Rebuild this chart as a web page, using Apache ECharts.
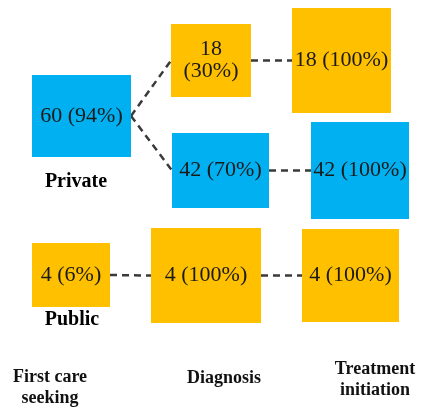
<!DOCTYPE html>
<html>
<head>
<meta charset="utf-8">
<script src="https://cdn.jsdelivr.net/npm/echarts@6/dist/echarts.min.js"></script>
<style>
html, body { margin: 0; padding: 0; background: #fff; }
#chart { width: 421px; height: 410px; }
</style>
</head>
<body>
<div id="chart"></div>
<script>
// Care pathway: patients (share) at each step, by sector of first care
var stages = ['First care\nseeking', 'Diagnosis', 'Treatment\ninitiation'];
var sectors = ['Private', 'Public'];
var nodeCounts = [60, 18, 18, 42, 42, 4, 4, 4];
var nodePercents = [94, 30, 100, 70, 100, 6, 100, 100];
// source -> target node index
var links = [[0, 1], [0, 3], [1, 2], [3, 4], [5, 6], [6, 7]];

// layout only (canvas units): box corners, fill, wrap label
var BLUE = '#00B0F0', ORANGE = '#FFC000';
var boxes = [
    { r: [32, 75, 131, 157], c: BLUE },
    { r: [171, 24, 251, 97], c: ORANGE, wrap: true },
    { r: [292, 8, 391, 113], c: ORANGE },
    { r: [172, 133, 269, 208], c: BLUE },
    { r: [311, 122, 409, 219], c: BLUE },
    { r: [32, 243, 110, 307], c: ORANGE },
    { r: [151, 228, 261, 323], c: ORANGE },
    { r: [302, 229, 399, 322], c: ORANGE }
];
var sectorPos = [[76, 182], [72, 320]];
var stagePos = [[50, 388], [224, 378], [375, 380]];

var SERIF = '"Liberation Serif", "Times New Roman", serif';

function renderNode(params, api) {
    var i = api.value(0);
    var b = boxes[i];
    var p0 = api.coord([b.r[0], b.r[1]]);
    var p1 = api.coord([b.r[2], b.r[3]]);
    var txt = api.value(1) + (b.wrap ? '\n' : ' ') + '(' + api.value(2) + '%)';
    return {
        type: 'group',
        children: [
            { type: 'rect', shape: { x: p0[0], y: p0[1], width: p1[0] - p0[0], height: p1[1] - p0[1] }, style: { fill: b.c } },
            { type: 'text', x: (p0[0] + p1[0]) / 2, y: (p0[1] + p1[1]) / 2,
              style: { text: txt, font: '22px ' + SERIF, fill: '#1a1a1a', align: 'center', verticalAlign: 'middle', lineHeight: 22 } }
        ]
    };
}

function renderLink(params, api) {
    var s = boxes[api.value(0)].r, t = boxes[api.value(1)].r;
    var a = api.coord([s[2], (s[1] + s[3]) / 2]);
    var b = api.coord([t[0], (t[1] + t[3]) / 2]);
    return {
        type: 'line',
        shape: { x1: a[0], y1: a[1], x2: b[0], y2: b[1] },
        style: { stroke: '#3a3a3a', lineWidth: 2.5, lineDash: [7, 5] }
    };
}

var labels = [];
sectors.forEach(function (s, i) {
    labels.push({ type: 'text', x: sectorPos[i][0], y: sectorPos[i][1],
        style: { text: s, font: 'bold 20px ' + SERIF, fill: '#000', align: 'center', verticalAlign: 'middle' } });
});
stages.forEach(function (s, i) {
    labels.push({ type: 'text', x: stagePos[i][0], y: stagePos[i][1],
        style: { text: s, font: 'bold 18px ' + SERIF, fill: '#111', align: 'center', verticalAlign: 'middle', lineHeight: 21 } });
});

var chart = echarts.init(document.getElementById('chart'));
chart.setOption({
    animation: false,
    grid: { left: 0, right: 0, top: 0, bottom: 0 },
    xAxis: { type: 'value', min: 0, max: 421, show: false },
    yAxis: { type: 'value', min: 0, max: 410, inverse: true, show: false },
    graphic: labels,
    series: [
        {
            type: 'custom',
            renderItem: renderLink,
            data: links.map(function (l) { return [l[0], l[1]]; }),
            z: 1
        },
        {
            type: 'custom',
            renderItem: renderNode,
            data: nodeCounts.map(function (c, i) { return [i, c, nodePercents[i]]; }),
            z: 2
        }
    ]
});
</script>
</body>
</html>
